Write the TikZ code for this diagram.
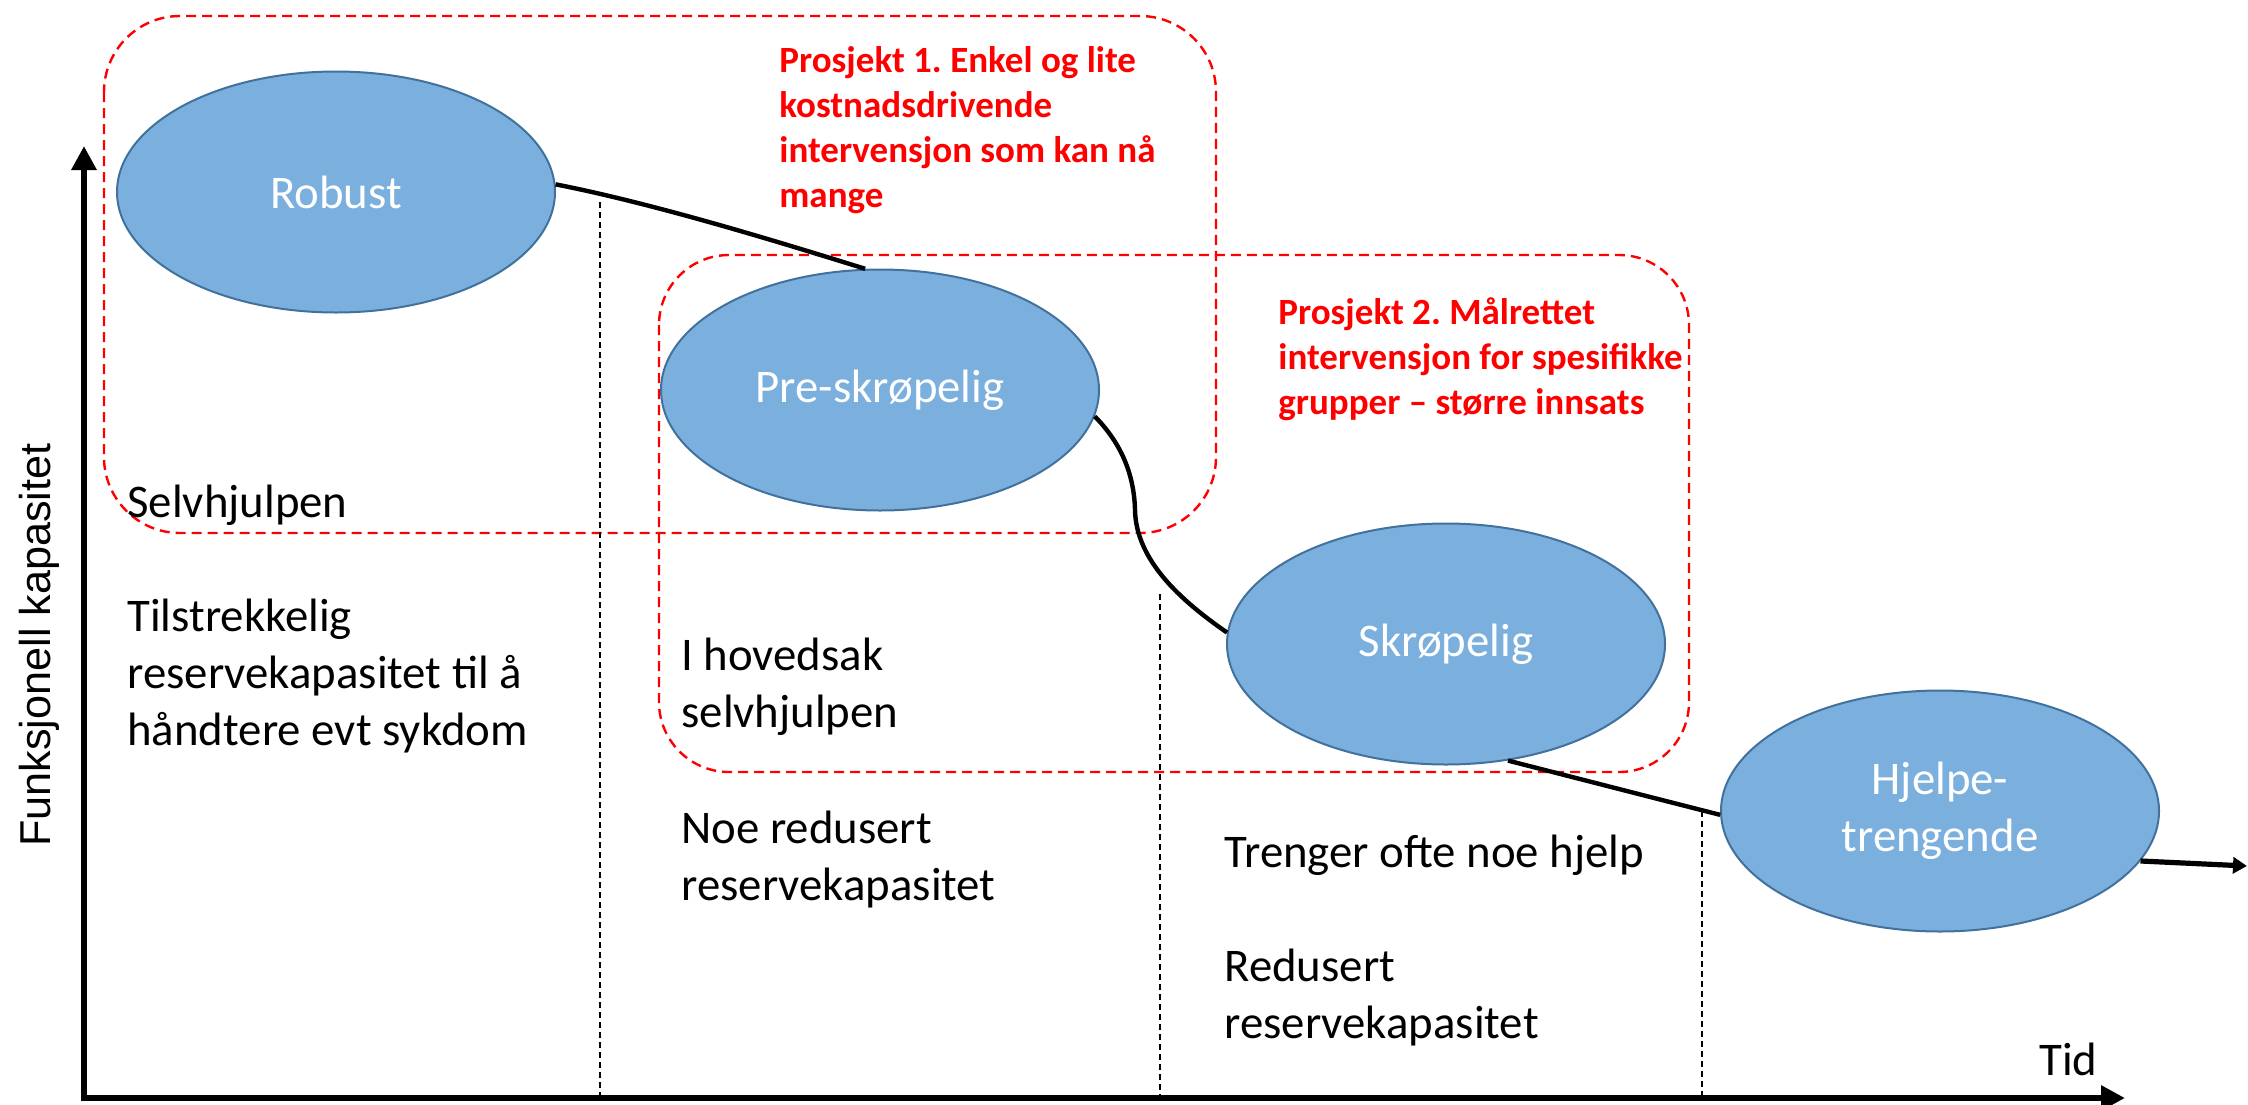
\documentclass[tikz,border=0pt]{standalone}
\usepackage{fontspec}
\setmainfont{Carlito}
\newfontfamily\axisfont{Liberation Sans}
\usetikzlibrary{shapes.geometric,arrows.meta}
\definecolor{ellfill}{HTML}{7BAFDE}
\definecolor{elldraw}{HTML}{41719C}
\definecolor{pred}{HTML}{FF0000}
\frenchspacing
\begin{document}
\begin{tikzpicture}[x=0.5pt,y=-0.5pt,
  stage/.style={ellipse, draw=elldraw, line width=1pt, fill=ellfill,
    minimum width=219pt, minimum height=120.5pt, inner sep=0pt, text=white,
    font=\fontsize{23.4}{28.5}\selectfont, align=center},
  lbl/.style={anchor=base west, inner sep=0pt, align=left,
    font=\fontsize{23.4}{28.5}\selectfont},
  proj/.style={anchor=base west, inner sep=0pt, align=left, text=pred,
    font=\bfseries\fontsize{18.5}{22.35}\selectfont},
  redbox/.style={draw=pred, line width=1.2pt, dash pattern=on 5pt off 3pt},
  vguide/.style={draw=black, line width=0.6pt, dash pattern=on 3pt off 2pt},
  axisline/.style={line width=3pt, -{Triangle[length=12pt,width=12pt]}},
  trend/.style={line width=2.2pt}
]
\useasboundingbox (0,0) rectangle (2248,1104);

% project boxes
\draw[redbox, rounded corners=38pt] (104,16) rectangle (1216,533);
\draw[redbox, rounded corners=35pt] (659,255) rectangle (1689,772);

% vertical guides
\draw[vguide] (600,202) -- (600,1097);
\draw[vguide] (1160,594) -- (1160,1097);
\draw[vguide] (1702,811) -- (1702,1097);

% axes
\coordinate (ybot) at (84,1101);
\coordinate (ytip) at (84,146);
\coordinate (xstart) at (87,1098);
\coordinate (xtip) at (2125,1098);
\draw[axisline] (ybot) -- (ytip);
\draw[axisline] (xstart) -- (xtip);
\node[rotate=90, anchor=base, inner sep=0pt, font=\axisfont\fontsize{21.6}{26}\selectfont] (ylabel) at (50,645) {Funksjonell kapasitet};
\node[lbl] (tid) at (2039,1075) {Tid};

% stages
\node[stage] (robust) at (336,192) {Robust};
\node[stage] (pre) at (880,390) {Pre-skrøpelig};
\node[stage] (skro) at (1446,644) {Skrøpelig};
\node[stage] (hjelp) at (1940,811) {Hjelpe-\\trengende};

% trend curve
\draw[trend] (robust.2) .. controls (656,204) and (782,243) .. (pre.97);
\draw[trend] (pre.-7) .. controls (1118,440) and (1134,470) .. (1135,510)
  .. controls (1136,560) and (1180,600) .. (skro.177);
\draw[trend] (skro.-62) .. controls (1580,779) and (1650,797) .. (hjelp.181);
\coordinate (trendend) at (2247,866);
\draw[line width=2.6pt, -{Triangle[length=7pt,width=8pt]}] (hjelp.-14) -- (trendend);

% labels (anchored at the baseline of the last line)
\node[lbl] (selv) at (127,517) {Selvhjulpen};
\node[lbl] (tilstr) at (127,745) {Tilstrekkelig\\reservekapasitet til å\\håndtere evt sykdom};
\node[lbl] (hoved) at (681,727) {I hovedsak\\selvhjulpen};
\node[lbl] (noe) at (681,900) {Noe redusert\\reservekapasitet};
\node[lbl] (trenger) at (1224,867) {Trenger ofte noe hjelp};
\node[lbl] (redus) at (1224,1038) {Redusert\\reservekapasitet};

\node[proj] (p1) at (779,207) {Prosjekt 1. Enkel og lite\\kostnadsdrivende\\intervensjon som kan nå\\mange};
\node[proj] (p2) at (1278,414) {Prosjekt 2. Målrettet\\intervensjon for spesifikke\\grupper – større innsats};
\end{tikzpicture}
\end{document}
